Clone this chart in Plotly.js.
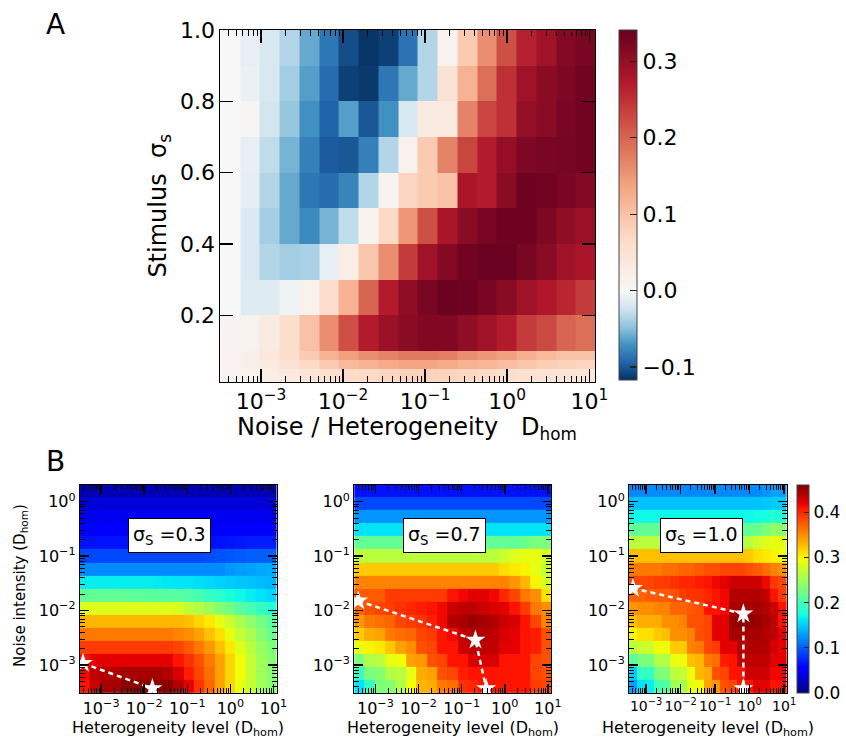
<!DOCTYPE html>
<html><head><meta charset="utf-8">
<script src="https://cdn.plot.ly/plotly-3.0.1.min.js"></script>
<style>html,body{margin:0;padding:0;background:#fff}</style>
</head><body><div id="chart" style="width:846px;height:740px"></div>
<script>
// ---------- DATA ----------
// log10 cell edges along the D_hom axis (shared by all panels)
const xEdgesLog = [-3.494,-3.254,-3.013,-2.773,-2.532,-2.292,-2.051,-1.811,-1.570,-1.330,-1.089,-0.849,-0.608,-0.368,-0.127,0.113,0.354,0.594,0.835,1.075];
// Panel A: stimulus sigma_s cell edges (top -> bottom)
const aYEdges = [1.0,0.9,0.8,0.7,0.6,0.5,0.4,0.3,0.2,0.1,0.075,0.05,0.014];
// Panel A values, rows top -> bottom
const aRows = [
 [0.0,-0.01,-0.02,-0.035,-0.06,-0.085,-0.105,-0.115,-0.11,-0.087,-0.035,0.01,0.09,0.16,0.22,0.265,0.29,0.315,0.325],
 [0.0,-0.008,-0.02,-0.04,-0.065,-0.09,-0.11,-0.113,-0.085,-0.06,-0.035,0.05,0.12,0.19,0.25,0.29,0.31,0.32,0.33],
 [0.0,0.005,-0.022,-0.045,-0.072,-0.095,-0.065,-0.1,-0.072,-0.02,0.03,0.035,0.17,0.23,0.25,0.3,0.31,0.325,0.33],
 [0.0,-0.01,-0.03,-0.055,-0.08,-0.098,-0.1,-0.08,-0.035,0.015,0.09,0.17,0.23,0.27,0.3,0.32,0.325,0.328,0.33],
 [0.0,-0.012,-0.035,-0.06,-0.085,-0.09,-0.078,-0.035,0.01,0.075,0.09,0.1,0.28,0.27,0.31,0.335,0.33,0.325,0.315],
 [0.0,-0.018,-0.04,-0.06,-0.075,-0.055,-0.03,0.01,0.07,0.15,0.22,0.28,0.31,0.325,0.335,0.335,0.32,0.305,0.295],
 [0.0,-0.018,-0.035,-0.04,-0.038,-0.01,0.025,0.095,0.16,0.24,0.29,0.315,0.33,0.338,0.338,0.325,0.31,0.29,0.28],
 [0.0,-0.015,-0.015,-0.005,0.015,0.06,0.12,0.2,0.27,0.305,0.325,0.338,0.335,0.325,0.31,0.29,0.275,0.26,0.24],
 [0.01,0.012,0.03,0.06,0.1,0.16,0.22,0.27,0.295,0.31,0.318,0.318,0.305,0.29,0.27,0.24,0.225,0.2,0.19],
 [0.01,0.02,0.04,0.06,0.09,0.12,0.14,0.16,0.17,0.18,0.18,0.175,0.16,0.15,0.14,0.125,0.11,0.1,0.1],
 [0.01,0.02,0.03,0.05,0.07,0.09,0.11,0.12,0.13,0.135,0.135,0.13,0.12,0.115,0.105,0.095,0.085,0.08,0.075],
 [0.01,0.015,0.025,0.035,0.045,0.055,0.065,0.07,0.075,0.08,0.08,0.078,0.072,0.068,0.06,0.055,0.05,0.045,0.045]
];
const aZmin = -0.117, aZmax = 0.341;
const aCbTicks = [-0.1,0.0,0.1,0.2,0.3];
const aYTicks = [0.2,0.4,0.6,0.8,1.0];

// Panel B: log10 noise-intensity cell edges (top -> bottom)
const bYEdgesLog = [0.328,0.088,-0.153,-0.393,-0.634,-0.874,-1.115,-1.355,-1.596,-1.836,-2.076,-2.317,-2.557,-2.798,-3.04,-3.28,-3.52];
const bSigmaLabels = ['0.3','0.7','1.0'];
// sigma_s = 0.3, rows top -> bottom
const b03Rows = [
 [0.02,0.02,0.02,0.02,0.02,0.02,0.02,0.02,0.02,0.02,0.02,0.02,0.02,0.02,0.02,0.02,0.02,0.02,0.02],
 [0.035,0.035,0.035,0.035,0.035,0.035,0.035,0.035,0.035,0.035,0.035,0.035,0.035,0.035,0.035,0.035,0.035,0.035,0.035],
 [0.045,0.045,0.045,0.045,0.045,0.045,0.045,0.045,0.045,0.045,0.045,0.045,0.045,0.045,0.045,0.045,0.045,0.045,0.045],
 [0.05,0.05,0.05,0.05,0.05,0.05,0.05,0.05,0.05,0.05,0.05,0.05,0.05,0.05,0.05,0.05,0.05,0.055,0.055],
 [0.065,0.065,0.065,0.065,0.065,0.065,0.065,0.065,0.065,0.065,0.065,0.065,0.065,0.065,0.067,0.068,0.07,0.07,0.07],
 [0.09,0.09,0.09,0.09,0.09,0.09,0.09,0.09,0.09,0.09,0.09,0.09,0.092,0.094,0.096,0.098,0.1,0.1,0.1],
 [0.12,0.12,0.12,0.12,0.12,0.12,0.12,0.12,0.12,0.12,0.12,0.12,0.12,0.12,0.125,0.128,0.13,0.133,0.135],
 [0.165,0.165,0.165,0.165,0.165,0.165,0.165,0.163,0.162,0.161,0.16,0.158,0.155,0.152,0.15,0.147,0.145,0.142,0.14],
 [0.215,0.215,0.215,0.215,0.214,0.213,0.212,0.211,0.21,0.21,0.205,0.2,0.19,0.185,0.175,0.17,0.165,0.16,0.155],
 [0.285,0.285,0.285,0.285,0.285,0.285,0.285,0.285,0.285,0.28,0.27,0.26,0.25,0.235,0.225,0.21,0.2,0.19,0.18],
 [0.33,0.33,0.33,0.33,0.33,0.33,0.33,0.33,0.33,0.33,0.325,0.315,0.305,0.29,0.275,0.255,0.24,0.225,0.21],
 [0.36,0.36,0.36,0.36,0.36,0.36,0.36,0.36,0.36,0.355,0.35,0.34,0.325,0.31,0.29,0.27,0.255,0.235,0.22],
 [0.39,0.39,0.39,0.39,0.39,0.39,0.39,0.39,0.39,0.385,0.375,0.36,0.345,0.325,0.305,0.285,0.265,0.245,0.23],
 [0.41,0.42,0.42,0.42,0.42,0.42,0.42,0.42,0.42,0.41,0.395,0.38,0.36,0.34,0.315,0.295,0.27,0.25,0.235],
 [0.415,0.435,0.44,0.44,0.445,0.445,0.445,0.445,0.44,0.425,0.405,0.385,0.365,0.34,0.315,0.295,0.27,0.25,0.235],
 [0.41,0.43,0.445,0.445,0.455,0.455,0.455,0.455,0.455,0.44,0.42,0.395,0.37,0.34,0.315,0.29,0.27,0.25,0.235]
];
// sigma_s = 0.7
const b07Rows = [
 [0.065,0.065,0.065,0.065,0.065,0.065,0.065,0.065,0.065,0.065,0.065,0.065,0.065,0.065,0.065,0.065,0.065,0.065,0.065],
 [0.09,0.09,0.09,0.09,0.09,0.09,0.09,0.09,0.09,0.09,0.09,0.09,0.09,0.09,0.09,0.09,0.09,0.09,0.09],
 [0.125,0.125,0.125,0.125,0.125,0.125,0.125,0.125,0.125,0.125,0.125,0.125,0.125,0.125,0.125,0.125,0.125,0.125,0.125],
 [0.16,0.16,0.16,0.16,0.16,0.16,0.16,0.16,0.16,0.16,0.16,0.16,0.16,0.16,0.16,0.16,0.16,0.16,0.16],
 [0.215,0.215,0.215,0.215,0.215,0.215,0.215,0.215,0.215,0.215,0.215,0.215,0.215,0.215,0.215,0.215,0.22,0.23,0.23],
 [0.265,0.265,0.265,0.265,0.265,0.265,0.265,0.265,0.265,0.265,0.265,0.265,0.265,0.265,0.275,0.285,0.29,0.29,0.28],
 [0.32,0.32,0.32,0.32,0.32,0.32,0.32,0.32,0.32,0.32,0.32,0.32,0.32,0.32,0.31,0.305,0.3,0.29,0.27],
 [0.355,0.355,0.355,0.355,0.355,0.355,0.355,0.355,0.355,0.355,0.355,0.355,0.355,0.355,0.355,0.345,0.33,0.3,0.28],
 [0.375,0.375,0.375,0.39,0.39,0.39,0.39,0.39,0.39,0.41,0.415,0.42,0.42,0.415,0.4,0.385,0.36,0.35,0.31],
 [0.37,0.38,0.385,0.39,0.395,0.4,0.405,0.41,0.415,0.43,0.435,0.435,0.43,0.425,0.42,0.41,0.39,0.36,0.35],
 [0.345,0.36,0.365,0.37,0.385,0.39,0.395,0.405,0.415,0.44,0.445,0.45,0.445,0.44,0.43,0.425,0.41,0.385,0.355],
 [0.32,0.335,0.34,0.36,0.365,0.37,0.385,0.39,0.41,0.415,0.435,0.44,0.44,0.435,0.425,0.42,0.41,0.405,0.38],
 [0.29,0.3,0.305,0.32,0.34,0.35,0.38,0.385,0.41,0.41,0.43,0.435,0.435,0.435,0.42,0.42,0.41,0.405,0.38],
 [0.23,0.26,0.265,0.29,0.295,0.34,0.345,0.38,0.385,0.41,0.41,0.425,0.425,0.425,0.41,0.41,0.41,0.385,0.38],
 [0.19,0.23,0.235,0.26,0.265,0.29,0.335,0.34,0.38,0.385,0.405,0.41,0.41,0.41,0.41,0.41,0.41,0.385,0.38],
 [0.16,0.19,0.23,0.235,0.26,0.295,0.33,0.335,0.36,0.365,0.395,0.4,0.41,0.41,0.41,0.41,0.41,0.39,0.385]
];
// sigma_s = 1.0
const b10Rows = [
 [0.12,0.12,0.12,0.12,0.12,0.12,0.12,0.12,0.12,0.12,0.12,0.12,0.12,0.12,0.12,0.12,0.125,0.13,0.13],
 [0.145,0.145,0.145,0.145,0.145,0.145,0.145,0.145,0.145,0.145,0.145,0.145,0.145,0.145,0.145,0.145,0.148,0.15,0.15],
 [0.17,0.17,0.17,0.17,0.17,0.17,0.17,0.17,0.17,0.17,0.17,0.17,0.17,0.17,0.17,0.172,0.175,0.18,0.18],
 [0.215,0.215,0.215,0.215,0.215,0.215,0.215,0.215,0.215,0.215,0.215,0.215,0.215,0.215,0.215,0.22,0.23,0.24,0.24],
 [0.265,0.265,0.265,0.265,0.265,0.265,0.265,0.265,0.265,0.265,0.265,0.265,0.265,0.265,0.265,0.275,0.285,0.29,0.29],
 [0.325,0.325,0.325,0.325,0.325,0.325,0.325,0.325,0.325,0.325,0.325,0.325,0.325,0.325,0.32,0.31,0.305,0.3,0.295],
 [0.36,0.36,0.36,0.36,0.365,0.365,0.37,0.37,0.375,0.38,0.38,0.385,0.385,0.385,0.38,0.375,0.365,0.355,0.35],
 [0.385,0.385,0.385,0.39,0.39,0.395,0.4,0.4,0.405,0.41,0.415,0.42,0.43,0.43,0.43,0.43,0.415,0.39,0.385],
 [0.37,0.37,0.375,0.375,0.375,0.38,0.39,0.395,0.395,0.4,0.41,0.415,0.44,0.44,0.44,0.44,0.435,0.41,0.39],
 [0.345,0.35,0.35,0.355,0.355,0.37,0.37,0.375,0.38,0.41,0.41,0.415,0.445,0.445,0.445,0.445,0.44,0.43,0.41],
 [0.325,0.335,0.335,0.335,0.35,0.35,0.355,0.38,0.38,0.385,0.42,0.42,0.45,0.455,0.455,0.45,0.445,0.435,0.41],
 [0.3,0.31,0.31,0.32,0.325,0.35,0.35,0.355,0.38,0.385,0.42,0.42,0.445,0.445,0.445,0.445,0.44,0.435,0.42],
 [0.265,0.275,0.275,0.295,0.295,0.32,0.32,0.355,0.36,0.385,0.39,0.42,0.42,0.44,0.44,0.44,0.44,0.425,0.42],
 [0.21,0.23,0.23,0.26,0.26,0.29,0.295,0.325,0.33,0.36,0.365,0.405,0.41,0.435,0.435,0.435,0.435,0.42,0.42],
 [0.15,0.19,0.19,0.23,0.235,0.265,0.27,0.295,0.33,0.335,0.38,0.385,0.41,0.41,0.43,0.43,0.43,0.415,0.415],
 [0.13,0.16,0.165,0.2,0.205,0.25,0.255,0.29,0.295,0.34,0.345,0.38,0.385,0.41,0.41,0.42,0.42,0.41,0.41]
];
const bZmin = 0.0, bZmax = 0.46;
const bCbTicks = [0.0,0.1,0.2,0.3,0.4];
// optimal-point paths (log10 values)
const path03X = [-3.42,-1.81], path03Y = [-2.97,-3.43];
const path07X = [-3.40,-0.68,-0.43], path07Y = [-1.82,-2.54,-3.43];
const path10X = [-3.38,-0.18,-0.18], path10Y = [-1.59,-2.06,-3.43];
const decadeTicks = [-3,-2,-1,0,1];
const bYDecadeTicks = [-3,-2,-1,0];

// ---------- helpers ----------
const pow10 = a => a.map(e => Math.pow(10, e));
const sup = e => '10<sup>' + (e < 0 ? '\u2212' + (-e) : e) + '</sup>';
// log minor tick positions (2..9 x 10^d)
function minorLogTicks(lo, hi){
  const out = [];
  for (let d = Math.floor(lo); d <= Math.ceil(hi); d++)
    for (let k = 2; k <= 9; k++){ const v = k*Math.pow(10,d); const l = Math.log10(v); if (l > lo && l < hi) out.push(v); }
  return out;
}

// RdBu_r with a two-slope norm centred on 0
const rdbu = ['#053061','#2166ac','#4393c3','#92c5de','#d1e5f0','#f7f7f7','#fddbc7','#f4a582','#d6604d','#b2182b','#67001f'];
const p0 = (0 - aZmin) / (aZmax - aZmin);
const rdbuScale = rdbu.map((c, i) => {
  const t = i / 10;
  const p = t <= 0.5 ? t / 0.5 * p0 : p0 + (t - 0.5) / 0.5 * (1 - p0);
  return [p, c];
});
// matplotlib jet
function seg(pts, t){ for (let i=0;i<pts.length-1;i++){ const [a,va]=pts[i],[b,vb]=pts[i+1]; if(t>=a&&t<=b) return va+(vb-va)*(t-a)/(b-a);} return pts[pts.length-1][1]; }
const jetStops = [0,0.11,0.125,0.34,0.35,0.375,0.64,0.65,0.66,0.89,0.91,1];
const jetScale = jetStops.map(t => {
  const r = seg([[0,0],[0.35,0],[0.66,1],[0.89,1],[1,0.5]], t);
  const g = seg([[0,0],[0.125,0],[0.375,1],[0.64,1],[0.91,0],[1,0]], t);
  const b = seg([[0,0.5],[0.11,1],[0.34,1],[0.65,0],[1,0]], t);
  return [t, `rgb(${Math.round(r*255)},${Math.round(g*255)},${Math.round(b*255)})`];
});

const FONT = 'DejaVu Sans';
const xE = pow10(xEdgesLog);
const bYE = pow10(bYEdgesLog.slice().reverse());

const traces = [];
traces.push({
  type:'heatmap', x:xE, y:aYEdges.slice().reverse(), z:aRows.slice().reverse(),
  xaxis:'x', yaxis:'y', zmin:aZmin, zmax:aZmax, colorscale:rdbuScale, hoverinfo:'skip',
  colorbar:{x:620/846, xanchor:'left', y:1-30/740, yanchor:'top', len:350/740, lenmode:'fraction',
    thickness:18, thicknessmode:'pixels', outlinewidth:1, outlinecolor:'#444',
    tickmode:'array', tickvals:aCbTicks, ticktext:aCbTicks.map(v=>v.toFixed(1).replace('-','\u2212')),
    ticks:'inside', ticklen:7, tickwidth:1.2, tickcolor:'#222', tickfont:{family:FONT,size:22,color:'black'}, xpad:0, ypad:0}
});
const bSets = [[b03Rows,'x2','y2',path03X,path03Y],[b07Rows,'x3','y3',path07X,path07Y],[b10Rows,'x4','y4',path10X,path10Y]];
bSets.forEach(([rows,xa,ya,px,py],i) => {
  const tr = {type:'heatmap', x:xE, y:bYE, z:rows.slice().reverse(), xaxis:xa, yaxis:ya,
    zmin:bZmin, zmax:bZmax, colorscale:jetScale, hoverinfo:'skip', showscale:i===2};
  if (i===2) tr.colorbar = {x:798.5/846, xanchor:'left', y:1-485/740, yanchor:'top', len:208/740, lenmode:'fraction',
    thickness:12, thicknessmode:'pixels', outlinewidth:1, outlinecolor:'#444',
    tickmode:'array', tickvals:bCbTicks, ticktext:bCbTicks.map(v=>v.toFixed(1)),
    ticks:'inside', ticklen:5, tickwidth:1.2, tickcolor:'#222', tickfont:{family:FONT,size:17,color:'black'}, xpad:0, ypad:0};
  traces.push(tr);
  traces.push({type:'scatter', mode:'lines+markers', x:pow10(px), y:pow10(py), xaxis:xa, yaxis:ya,
    line:{color:'white', width:2.5, dash:'5px,4px'}, marker:{symbol:'star', size:15, color:'white', line:{width:0}},
    hoverinfo:'skip', showlegend:false});
});

function logAxis(domain, range, ticks, fontSize, tl, ml, anchor){
  return {type:'log', domain:domain, range:range, anchor:anchor, showline:true, linecolor:'black', linewidth:1,
    mirror:'allticks', ticks:'inside', ticklen:tl, tickcolor:'black', tickwidth:1.5, tickangle:0,
    tickmode:'array', tickvals:pow10(ticks), ticktext:ticks.map(sup),
    tickfont:{family:FONT, size:fontSize, color:'black'}, showgrid:false, zeroline:false,
    minor:{tickmode:'array', tickvals:minorLogTicks(range[0], range[1]), ticks:'inside', ticklen:ml, tickcolor:'black', tickwidth:1, showgrid:false}};
}
const bYDom = [1-693.3/740, 1-485/740];
const layout = {
  width:846, height:740, margin:{l:0,r:0,t:0,b:0}, paper_bgcolor:'white', plot_bgcolor:'white',
  showlegend:false, font:{family:FONT, color:'black'},
  xaxis: logAxis([221/846, 596.7/846], [-3.494,1.073], decadeTicks, 22, 13, 6, 'y'),
  yaxis: {domain:[1-381.7/740, 1-30/740], range:[0.014,1.0], anchor:'x', showline:true, linecolor:'black', linewidth:1,
    mirror:'allticks', ticks:'inside', ticklen:13, tickwidth:1.5, tickcolor:'black', tickmode:'array', tickvals:aYTicks,
    ticktext:aYTicks.map(v=>v.toFixed(1)), tickfont:{family:FONT,size:22,color:'black'}, showgrid:false, zeroline:false},
  xaxis2: logAxis([80/846, 277.3/846], [-3.494,1.073], decadeTicks, 16, 9, 5, 'y2'),
  yaxis2: logAxis(bYDom, [-3.52,0.307], bYDecadeTicks, 16, 9, 5, 'x2'),
  xaxis3: logAxis([355/846, 552.3/846], [-3.494,1.073], decadeTicks, 16, 9, 5, 'y3'),
  yaxis3: logAxis(bYDom, [-3.52,0.307], bYDecadeTicks, 16, 9, 5, 'x3'),
  xaxis4: logAxis([630.5/846, 788.5/846], [-3.494,1.073], decadeTicks, 14, 9, 5, 'y4'),
  yaxis4: logAxis(bYDom, [-3.52,0.307], bYDecadeTicks, 16, 9, 5, 'x4'),
  annotations: []
};
const ann = layout.annotations;
const P = (x,y) => ({xref:'paper', yref:'paper', x:x/846, y:1-y/740});
ann.push(Object.assign(P(56,25), {text:'A', showarrow:false, font:{family:FONT,size:28}, xanchor:'center', yanchor:'middle'}));
ann.push(Object.assign(P(56,462), {text:'B', showarrow:false, font:{family:FONT,size:28}, xanchor:'center', yanchor:'middle'}));
ann.push(Object.assign(P(159,206), {text:'Stimulus\u00a0\u00a0\u03c3<sub>s</sub>', textangle:-90, showarrow:false, font:{family:FONT,size:24}, xanchor:'center', yanchor:'middle'}));
ann.push(Object.assign(P(408,428), {text:'Noise / Heterogeneity\u00a0\u00a0 D<sub>hom</sub>', showarrow:false, font:{family:FONT,size:24}, xanchor:'center', yanchor:'middle'}));
ann.push(Object.assign(P(20,585), {text:'Noise intensity (D<sub>hom</sub>)', textangle:-90, showarrow:false, font:{family:FONT,size:15}, xanchor:'center', yanchor:'middle'}));
[178.7,453.7,709.5].forEach(cx => {
  ann.push(Object.assign(P(cx,728), {text:'Heterogeneity level (D<sub>hom</sub>)', showarrow:false, font:{family:FONT,size:16}, xanchor:'center', yanchor:'middle'}));
});
[170,445.8,702.8].forEach((cx,i) => {
  ann.push(Object.assign(P(cx,535), {text:'\u03c3<sub>S</sub> =' + bSigmaLabels[i], showarrow:false, font:{family:FONT,size:19},
    xanchor:'center', yanchor:'middle', bgcolor:'white', bordercolor:'black', borderwidth:1, borderpad:4}));
});

Plotly.newPlot('chart', traces, layout, {staticPlot:true, displayModeBar:false});
</script></body></html>
